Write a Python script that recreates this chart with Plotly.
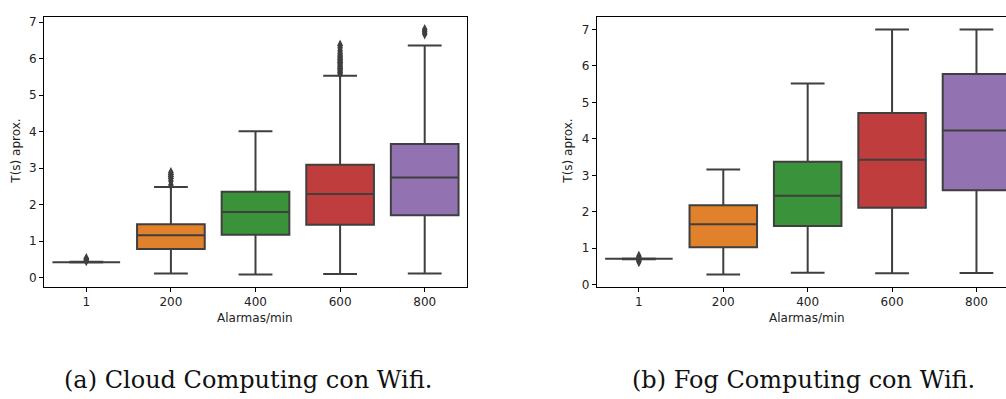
import plotly.graph_objects as go

categories = ["1", "200", "400", "600", "800"]
box_colors = ["#3274a1", "#e1812c", "#3a923a", "#c03d3e", "#9372b2"]

# (a) Cloud Computing con Wifi
cloud_q1 = [0.42, 0.78, 1.17, 1.45, 1.71]
cloud_median = [0.42, 1.16, 1.80, 2.29, 2.74]
cloud_q3 = [0.42, 1.46, 2.35, 3.09, 3.66]
cloud_low = [0.41, 0.11, 0.08, 0.10, 0.11]
cloud_high = [0.43, 2.48, 4.01, 5.53, 6.36]
cloud_outliers = {
    "1": [0.46, 0.49, 0.52],
    "200": [2.54, 2.65, 2.72, 2.78, 2.83, 2.88],
    "400": [],
    "600": [5.58, 5.62, 5.66, 5.70, 5.74, 5.78, 5.82, 5.86, 5.90, 5.94,
            5.98, 6.02, 6.06, 6.10, 6.15, 6.22, 6.30, 6.37],
    "800": [6.68, 6.74, 6.80],
}

# (b) Fog Computing con Wifi
fog_q1 = [0.71, 1.03, 1.61, 2.11, 2.59]
fog_median = [0.71, 1.66, 2.44, 3.43, 4.23]
fog_q3 = [0.71, 2.18, 3.37, 4.71, 5.78]
fog_low = [0.70, 0.28, 0.33, 0.31, 0.32]
fog_high = [0.72, 3.16, 5.52, 7.00, 7.00]
fog_outliers = {
    "1": [0.63, 0.67, 0.70, 0.74, 0.78],
    "200": [], "400": [], "600": [], "800": [],
}

y_ticks = [0, 1, 2, 3, 4, 5, 6, 7]
x_label = "Alarmas/min"
y_label = "T(s) aprox."
captions = ["(a) Cloud Computing con Wifi.", "(b) Fog Computing con Wifi."]

LINE = "#3f3f3f"
fig = go.Figure()

def add_panel(q1, med, q3, lo, hi, outl, xa, ya):
    for i, c in enumerate(categories):
        fig.add_trace(go.Box(
            x=[c], q1=[q1[i]], median=[med[i]], q3=[q3[i]],
            lowerfence=[lo[i]], upperfence=[hi[i]],
            fillcolor=box_colors[i], line=dict(color=LINE, width=2),
            width=0.8, whiskerwidth=0.5, boxpoints=False,
            xaxis=xa, yaxis=ya, showlegend=False, hoverinfo="skip"))
        pts = outl[c]
        if pts:
            fig.add_trace(go.Scatter(
                x=[c] * len(pts), y=pts, mode="markers",
                marker=dict(symbol="diamond-tall", size=8, color=LINE,
                            line=dict(width=0)),
                xaxis=xa, yaxis=ya, showlegend=False, hoverinfo="skip"))

add_panel(cloud_q1, cloud_median, cloud_q3, cloud_low, cloud_high, cloud_outliers, "x", "y")
add_panel(fog_q1, fog_median, fog_q3, fog_low, fog_high, fog_outliers, "x2", "y2")

W, H = 1006, 399
tickfont = dict(family="DejaVu Sans", size=12, color="#222222")
common_x = dict(type="category", categoryorder="array", categoryarray=categories,
                showgrid=False, zeroline=False, showline=True, linecolor="#000000",
                linewidth=1, ticks="outside", ticklen=4, tickcolor="#000000",
                tickfont=tickfont, mirror=True, fixedrange=True)
common_y = dict(showgrid=False, zeroline=False, showline=True, linecolor="#000000",
                linewidth=1, ticks="outside", ticklen=4, tickcolor="#000000",
                tickfont=tickfont, tickvals=y_ticks, fixedrange=True)

y_dom = [(H - 290) / H, (H - 16) / H]
fig.update_layout(
    width=W, height=H, margin=dict(l=0, r=0, t=0, b=0),
    paper_bgcolor="white", plot_bgcolor="white", boxmode="overlay",
    xaxis=dict(common_x, domain=[44 / W, 467 / W], range=[-0.5, 4.5], anchor="y"),
    yaxis=dict(common_y, domain=y_dom, range=[-0.25, 7.15], anchor="x", mirror=True),
    xaxis2=dict(common_x, domain=[596.7 / W, 1.0], range=[-0.5, 4.35], anchor="y2"),
    yaxis2=dict(common_y, domain=y_dom, range=[-0.054, 7.35], anchor="x2", mirror=False),
)

lab_font = dict(family="DejaVu Sans", size=12, color="#222222")
ann = []
for xc in [255, 807]:
    ann.append(dict(text=x_label, x=xc / W, y=(H - 322) / H, xref="paper", yref="paper",
                    showarrow=False, font=lab_font, xanchor="center", yanchor="middle"))
for xc in [16, 568]:
    ann.append(dict(text=y_label, x=xc / W, y=(H - 153) / H, xref="paper", yref="paper",
                    showarrow=False, font=lab_font, textangle=-90,
                    xanchor="center", yanchor="middle"))
for xc, cap in zip([248, 803], captions):
    ann.append(dict(text=cap, x=xc / W, y=(H - 385) / H, xref="paper", yref="paper",
                    showarrow=False, font=dict(family="DejaVu Serif", size=24, color="#111111"),
                    xanchor="center", yanchor="middle"))
fig.update_layout(annotations=ann)

fig.write_html("out.html", config={"displayModeBar": False})
